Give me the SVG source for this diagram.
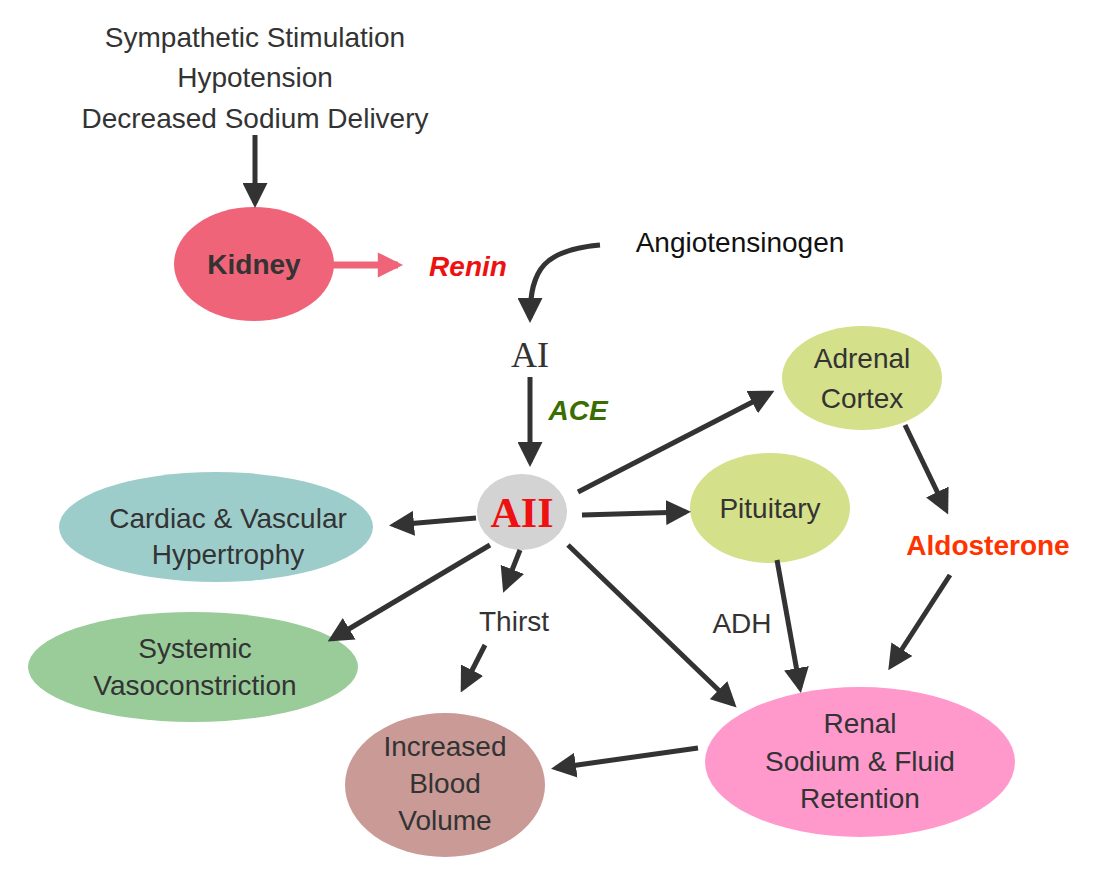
<svg xmlns="http://www.w3.org/2000/svg" width="1116" height="877" viewBox="0 0 1116 877">
<style>
.t{font-family:"Liberation Sans",Arial,sans-serif;font-size:28px;fill:#333;text-anchor:middle}
.c{stroke:#333;stroke-width:5;fill:none;marker-end:url(#a)}
</style>
<defs>
<marker id="a" viewBox="0 0 10 10" refX="8" refY="5" markerWidth="5" markerHeight="5" orient="auto" markerUnits="strokeWidth"><path d="M0,0L10,5L0,10z" fill="#333"/></marker>
<marker id="p" viewBox="0 0 10 10" refX="8" refY="5" markerWidth="5" markerHeight="3.6" orient="auto" markerUnits="strokeWidth"><path d="M0,0L10,5L0,10z" fill="#f0647a"/></marker>
</defs>
<rect width="1116" height="877" fill="#fff"/>
<g id="causes"><text class="t" x="255" y="47" font-size="30">Sympathetic Stimulation</text><text class="t" x="255" y="87">Hypotension</text><text class="t" x="255" y="128">Decreased Sodium Delivery</text></g>
<g id="kidney"><ellipse cx="254" cy="264" rx="80" ry="57" fill="#f0647a"/><text class="t" x="254" y="274" font-weight="bold" font-size="26">Kidney</text></g>
<g id="renin"><text class="t" x="468" y="276" fill="#ee1111" style="fill:#ee1111" font-weight="bold" font-style="italic" font-size="30">Renin</text></g>
<g id="angiotensinogen"><text class="t" x="740" y="252" style="fill:#111">Angiotensinogen</text></g>
<g id="ai"><text x="530" y="367" font-family="Liberation Serif,serif" font-size="36" fill="#333" text-anchor="middle">AI</text></g>
<g id="ace"><text class="t" x="578" y="420" style="fill:#3a6e00" font-weight="bold" font-style="italic" font-size="26">ACE</text></g>
<g id="aii"><ellipse cx="522" cy="512" rx="45" ry="38" fill="#d3d3d3"/><text x="522" y="527" font-family="Liberation Serif,serif" font-weight="bold" font-size="42" fill="#ee1111" text-anchor="middle">AII</text></g>
<g id="cardiac"><ellipse cx="216" cy="527" rx="157" ry="55" fill="#9dcdcb"/><text class="t" x="228" y="528">Cardiac &amp; Vascular</text><text class="t" x="228" y="564">Hypertrophy</text></g>
<g id="systemic"><ellipse cx="193" cy="667" rx="165" ry="55" fill="#99cc99"/><text class="t" x="195" y="658">Systemic</text><text class="t" x="195" y="695">Vasoconstriction</text></g>
<g id="thirst"><text class="t" x="514" y="631">Thirst</text></g>
<g id="blood"><ellipse cx="445" cy="785" rx="100" ry="72" fill="#c99a96"/><text class="t" x="445" y="756">Increased</text><text class="t" x="445" y="793">Blood</text><text class="t" x="445" y="830">Volume</text></g>
<g id="renal"><ellipse cx="860" cy="762" rx="155" ry="75" fill="#ff99cc"/><text class="t" x="860" y="733">Renal</text><text class="t" x="860" y="771">Sodium &amp; Fluid</text><text class="t" x="860" y="808">Retention</text></g>
<g id="pituitary"><ellipse cx="770" cy="508" rx="80" ry="55" fill="#d4e08a"/><text class="t" x="770" y="518">Pituitary</text></g>
<g id="adrenal"><ellipse cx="862" cy="378" rx="80" ry="52" fill="#d4e08a"/><text class="t" x="862" y="368">Adrenal</text><text class="t" x="862" y="408">Cortex</text></g>
<g id="aldosterone"><text class="t" x="988" y="555" style="fill:#ff3300" font-weight="bold" font-size="31">Aldosterone</text></g>
<g id="adh"><text class="t" x="742" y="633">ADH</text></g>
<g id="connectors">
<path class="c" d="M255,135V203"/>
<path d="M333,265H398" stroke="#f0647a" stroke-width="7" fill="none" marker-end="url(#p)"/>
<path class="c" d="M600,245C545,250 530,268 530,318"/>
<path class="c" d="M530,377V462"/>
<path class="c" d="M476,518L394,525"/>
<path class="c" d="M490,545L332,639"/>
<path class="c" d="M520,550L505,588"/>
<path class="c" d="M485,645L463,688"/>
<path class="c" d="M698,748L556,768"/>
<path class="c" d="M568,545L733,704"/>
<path class="c" d="M582,515L686,512"/>
<path class="c" d="M578,492L770,393"/>
<path class="c" d="M905,425L946,510"/>
<path class="c" d="M950,575L891,666"/>
<path class="c" d="M777,560L800,688"/>
</g>
</svg>
